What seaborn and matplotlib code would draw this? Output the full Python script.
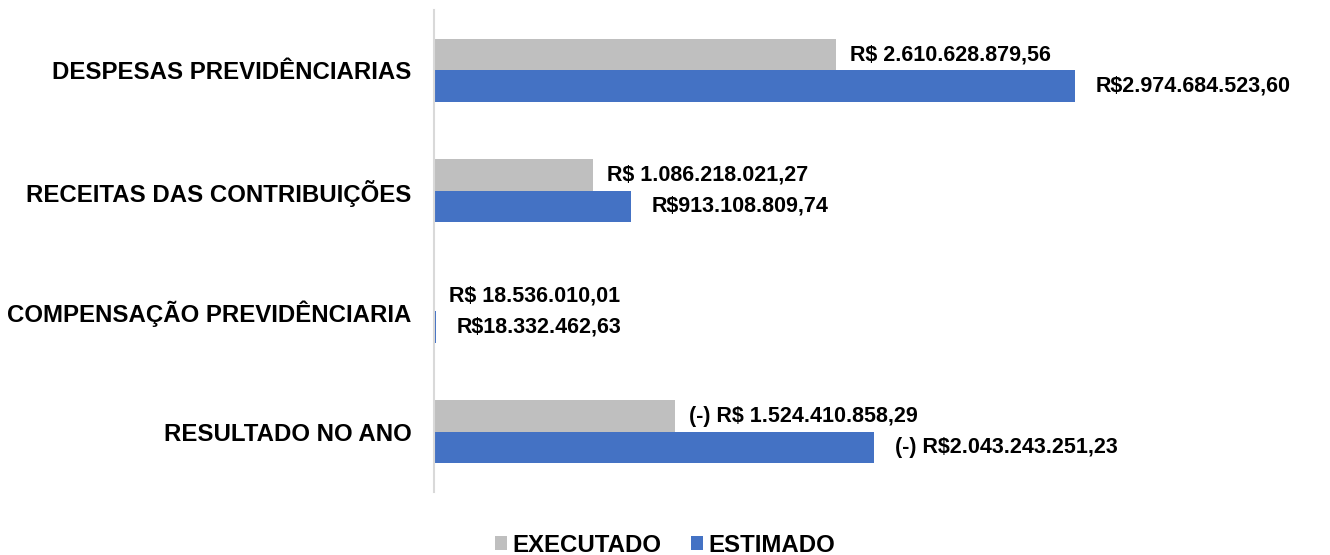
import pandas as pd
import numpy as np
import matplotlib.pyplot as plt
import seaborn as sns

categorias = ['DESPESAS PREVIDÊNCIARIAS', 'RECEITAS DAS CONTRIBUIÇÕES',
              'COMPENSAÇÃO PREVIDÊNCIARIA', 'RESULTADO NO ANO']
series = ['EXECUTADO', 'ESTIMADO']

# bar lengths as drawn in the picture (R$)
executado = [1.866e9, 0.740e9, 3.0e6, 1.117e9]
estimado = [2.974684e9, 0.913109e9, 8.0e6, 2.043243e9]

# data labels as printed on the chart
rotulos_executado = ['R$ 2.610.628.879,56', 'R$ 1.086.218.021,27',
                     'R$ 18.536.010,01', '(-) R$ 1.524.410.858,29']
rotulos_estimado = ['R$2.974.684.523,60', 'R$913.108.809,74',
                    'R$18.332.462,63', '(-) R$2.043.243.251,23']

cores = ['#BFBFBF', '#4472C4']

df = pd.DataFrame({
    'categoria': categorias * 2,
    'serie': [series[0]] * 4 + [series[1]] * 4,
    'valor': executado + estimado,
})

sns.set_style('white')
plt.rcParams['font.family'] = ['Liberation Sans', 'DejaVu Sans']

fig = plt.figure(figsize=(13.3, 5.55), dpi=100)
ax = fig.add_axes([434 / 1330, 1 - 492 / 555, (1300 - 434) / 1330, 482 / 555])

sns.barplot(data=df, y='categoria', x='valor', hue='serie', orient='h',
            palette=cores, width=0.52, saturation=1, linewidth=0,
            ax=ax, legend=True)

ax.set_xlim(0, 4.018e9)
ax.set_ylim(3.5, -0.5)

ax.bar_label(ax.containers[0], labels=rotulos_executado, padding=10,
             fontsize=15.5, fontweight='bold', color='black')
ax.bar_label(ax.containers[1], labels=rotulos_estimado, padding=15,
             fontsize=15.5, fontweight='bold', color='black')

ax.set_xlabel('')
ax.set_ylabel('')
ax.set_xticks([])
ax.tick_params(axis='y', length=0, pad=16, labelcolor='black')
for t in ax.get_yticklabels():
    t.set_fontsize(17.3)
    t.set_fontweight('bold')
for s in ['top', 'right', 'bottom']:
    ax.spines[s].set_visible(False)
ax.spines['left'].set_color('#D9D9D9')
ax.spines['left'].set_linewidth(1.5)

handles, labels = ax.get_legend_handles_labels()
ax.get_legend().remove()
leg = fig.legend(handles, labels, loc='lower center', bbox_to_anchor=(0.5, -0.042),
                 ncol=2, frameon=False, handlelength=0.5, handleheight=0.5,
                 handletextpad=0.2, columnspacing=1.25,
                 prop={'size': 17.3, 'weight': 'bold'})
for t in leg.get_texts():
    t.set_color('black')

fig.savefig('out.png', dpi=100)
